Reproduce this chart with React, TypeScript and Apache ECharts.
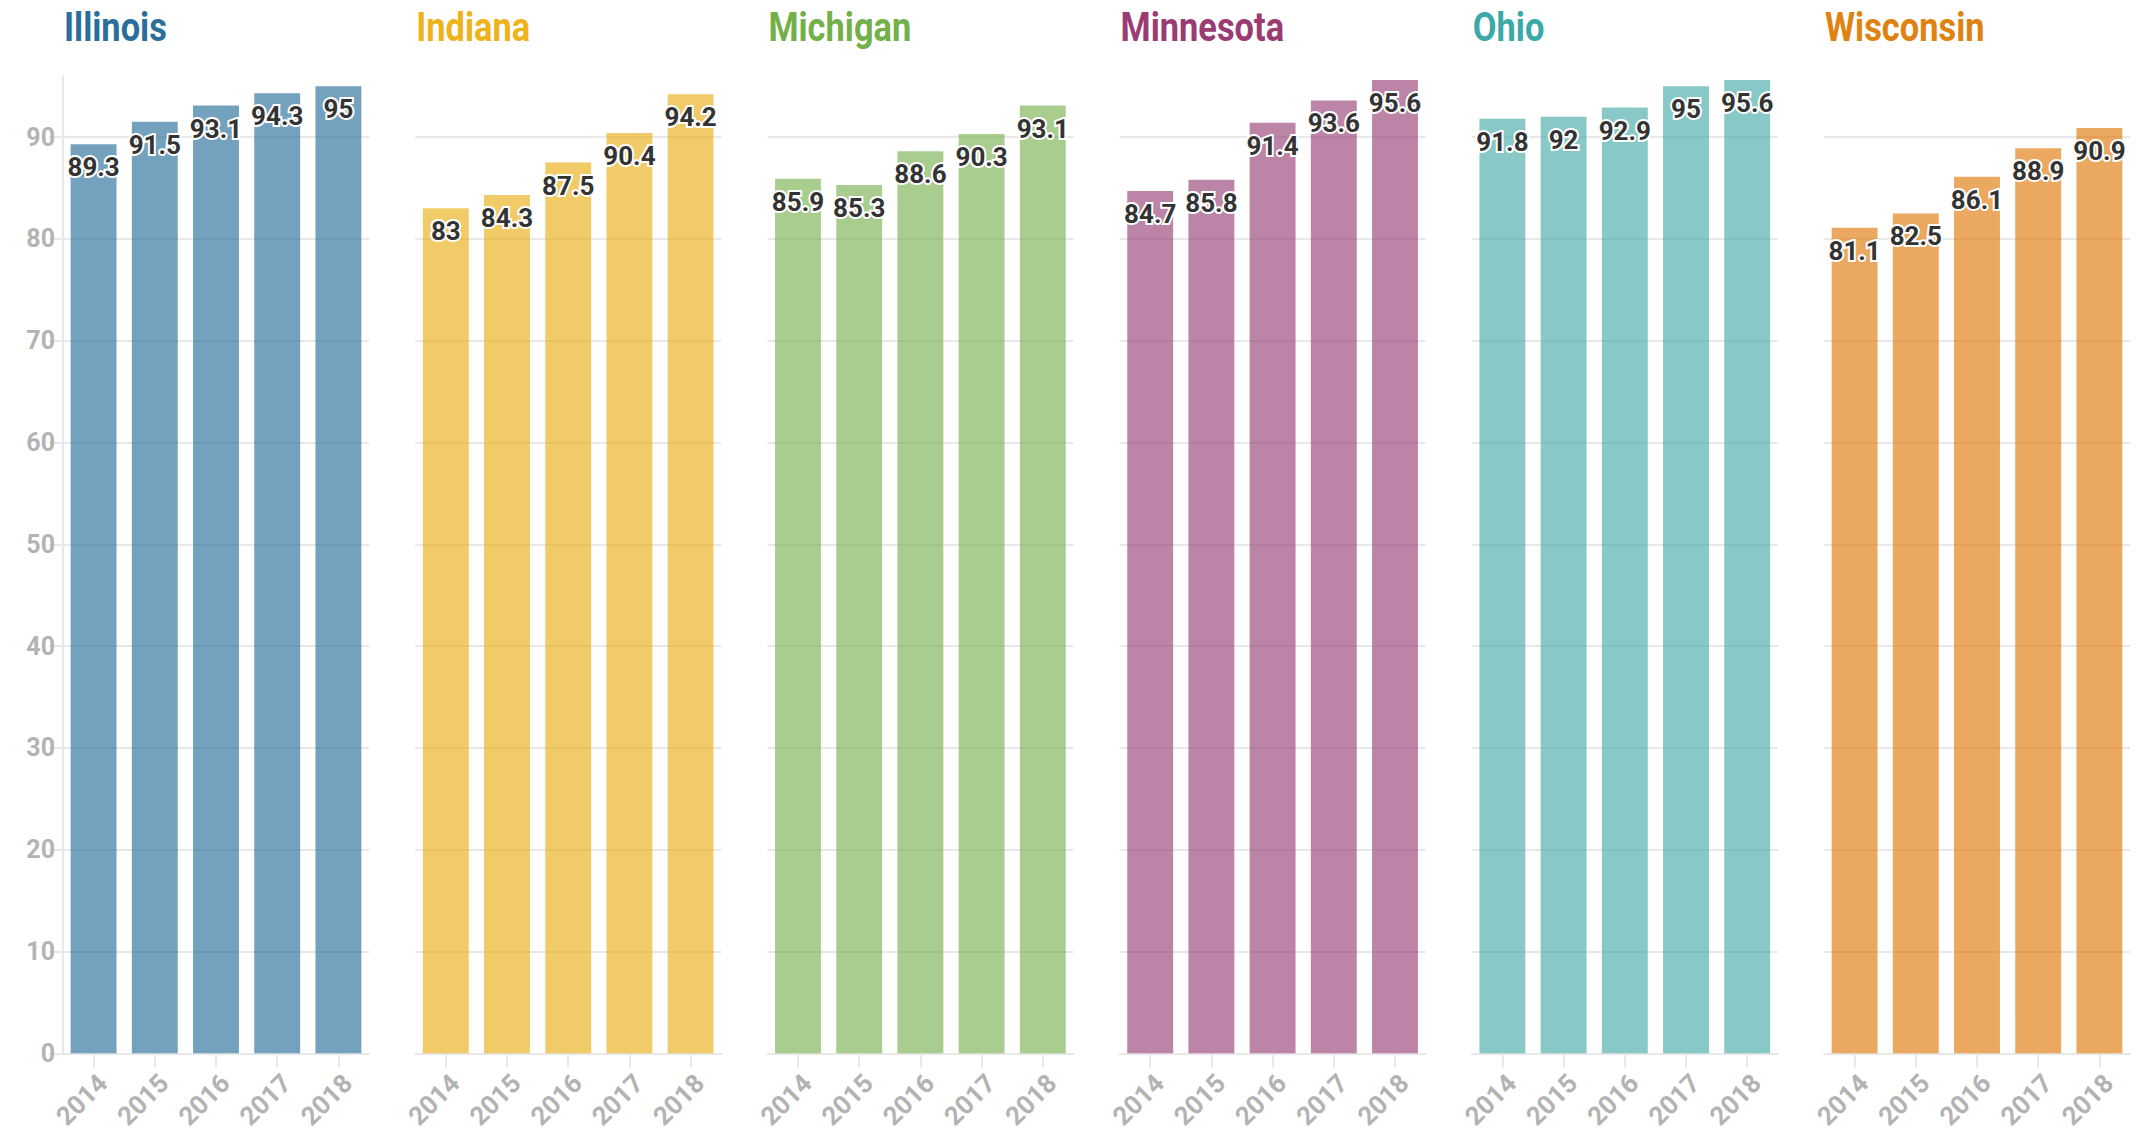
import React, { useEffect, useRef } from "react";
import * as echarts from "echarts";

const years = ["2014", "2015", "2016", "2017", "2018"];
const states = ["Illinois", "Indiana", "Michigan", "Minnesota", "Ohio", "Wisconsin"];
const illinois = [89.3, 91.5, 93.1, 94.3, 95];
const indiana = [83, 84.3, 87.5, 90.4, 94.2];
const michigan = [85.9, 85.3, 88.6, 90.3, 93.1];
const minnesota = [84.7, 85.8, 91.4, 93.6, 95.6];
const ohio = [91.8, 92, 92.9, 95, 95.6];
const wisconsin = [81.1, 82.5, 86.1, 88.9, 90.9];
const yTicks = [0, 10, 20, 30, 40, 50, 60, 70, 80, 90];

const seriesValues = [illinois, indiana, michigan, minnesota, ohio, wisconsin];
const titleColors = ["#2a6e9a", "#efb21b", "#74b04a", "#9a3b74", "#3aa9a7", "#e0820f"];
const barColors = [
  "rgba(42,110,154,0.65)",
  "rgba(235,175,24,0.65)",
  "rgba(121,178,83,0.65)",
  "rgba(152,66,118,0.65)",
  "rgba(72,172,170,0.65)",
  "rgba(223,121,13,0.65)",
];

const GRID_LEFT0 = 63;
const GRID_STEP = 352.2;
const GRID_WIDTH = 306;
const GRID_TOP = 76;
const GRID_BOTTOM = 78;
const GRID_COLOR = "#e8e8e8";

export default function App() {
  const ref = useRef<HTMLDivElement>(null);
  useEffect(() => {
    if (!ref.current) return;
    const chart = echarts.init(ref.current, undefined, { renderer: "svg" });
    const grids: any[] = [];
    const xAxes: any[] = [];
    const yAxes: any[] = [];
    const series: any[] = [];
    const graphics: any[] = [];
    states.forEach((name, i) => {
      const left = GRID_LEFT0 + GRID_STEP * i;
      grids.push({ left, width: GRID_WIDTH, top: GRID_TOP, bottom: GRID_BOTTOM, containLabel: false });
      xAxes.push({
        type: "category",
        gridIndex: i,
        data: years,
        axisLine: { show: true, lineStyle: { color: GRID_COLOR, width: 2 } },
        axisTick: { show: true, alignWithLabel: true, length: 14, lineStyle: { color: GRID_COLOR, width: 2 } },
        axisLabel: {
          rotate: 45,
          margin: 16,
          verticalAlign: "top",
          color: "#b3b3b3",
          fontFamily: "Roboto",
          fontWeight: "bold",
          fontSize: 26,
        },
      });
      const first = i === 0;
      yAxes.push({
        type: "value",
        gridIndex: i,
        min: 0,
        max: 96,
        interval: 10,
        axisLine: { show: first, lineStyle: { color: GRID_COLOR, width: 2 } },
        axisTick: { show: first, length: 14, customValues: yTicks, lineStyle: { color: GRID_COLOR, width: 2 } },
        axisLabel: {
          show: first,
          customValues: yTicks,
          margin: 8,
          color: "#b3b3b3",
          fontFamily: "Roboto",
          fontWeight: "bold",
          fontSize: 25,
        },
        splitLine: { show: true, lineStyle: { color: GRID_COLOR, width: 2 } },
      });
      series.push({
        type: "bar",
        name,
        xAxisIndex: i,
        yAxisIndex: i,
        data: seriesValues[i],
        barCategoryGap: "25%",
        itemStyle: { color: barColors[i] },
        label: {
          show: true,
          position: "insideTop",
          distance: 10,
          color: "#333333",
          fontFamily: "Roboto",
          fontWeight: "bold",
          fontSize: 26,
          textBorderColor: "#ffffff",
          textBorderWidth: 4,
        },
      });
      graphics.push({
        type: "text",
        x: left + 1,
        y: 7,
        scaleX: 0.86,
        style: {
          text: name,
          fill: titleColors[i],
          font: "bold 40px Roboto",
          textVerticalAlign: "top",
        },
      });
    });
    chart.setOption({
      animation: false,
      backgroundColor: "#ffffff",
      grid: grids,
      xAxis: xAxes,
      yAxis: yAxes,
      series,
      graphic: graphics,
    });
    return () => chart.dispose();
  }, []);
  return (
    <div
      ref={ref}
      style={{ position: "fixed", left: 0, top: 0, width: 2149, height: 1132 }}
    />
  );
}
